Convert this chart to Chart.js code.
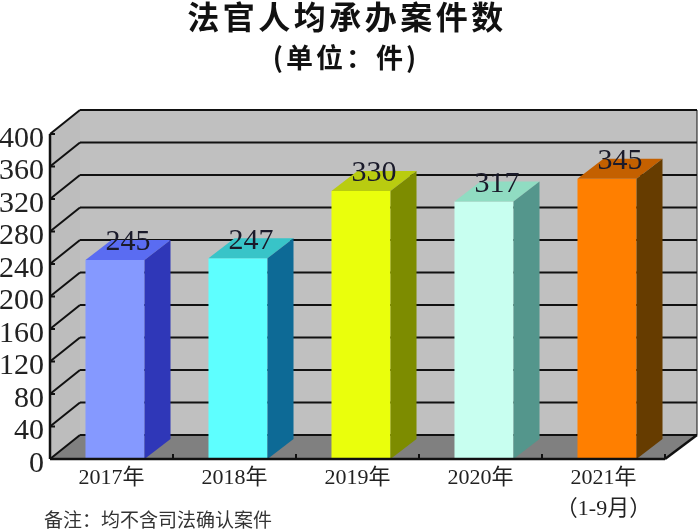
<!DOCTYPE html>
<html>
<head>
<meta charset="utf-8">
<style>
  html, body { margin: 0; padding: 0; background: #fff; }
  #wrap { width: 700px; height: 530px; }
</style>
<script src="https://cdn.jsdelivr.net/npm/chart.js@4"></script>
</head>
<body>
<div id="wrap"><canvas id="myChart" width="700" height="530"></canvas></div>
<script>
const categories = [["2017年"], ["2018年"], ["2019年"], ["2020年"], ["2021年", "（1-9月）"]];
const values = [245, 247, 330, 317, 345];
const frontColors = ["#8599ff", "#5effff", "#eaff0c", "#c8fff0", "#ff7f00"];
const topColors = ["#5a6cf2", "#38c4c8", "#b9cc10", "#90dcc2", "#c46000"];
const sideColors = ["#2f37b8", "#0d6a96", "#7d8c00", "#54968c", "#663c00"];
const yMax = 400;
const yStep = 40;

const serif = '"Liberation Serif", "Noto Sans CJK SC", serif';
const cjk = '"Noto Sans CJK SC", sans-serif';
const wallDx = 30, wallDy = -24;
const barDx = 26, barDy = -20;
const barShift = 3.5;
const wallExtra = 2;

function poly(ctx, pts, fill) {
  ctx.beginPath();
  ctx.moveTo(pts[0][0], pts[0][1]);
  for (let i = 1; i < pts.length; i++) ctx.lineTo(pts[i][0], pts[i][1]);
  ctx.closePath();
  ctx.fillStyle = fill;
  ctx.fill();
}

function line(ctx, x1, y1, x2, y2, w) {
  ctx.beginPath();
  ctx.moveTo(x1, y1);
  ctx.lineTo(x2, y2);
  ctx.lineWidth = w;
  ctx.strokeStyle = "#111";
  ctx.stroke();
}

const boxPlugin = {
  id: "box3d",
  beforeDatasetsDraw(chart) {
    const { ctx, chartArea: a, scales } = chart;
    const bx = a.left + wallDx, ty = a.top + wallDy, by = a.bottom + wallDy;
    const rx = a.right + wallDx + wallExtra;
    ctx.save();
    // back wall, side wall, floor
    poly(ctx, [[bx, ty], [rx, ty], [rx, by], [bx, by]], "#c0c0c0");
    poly(ctx, [[a.left, a.top], [bx, ty], [bx, by], [a.left, a.bottom]], "#bdbdbd");
    poly(ctx, [[a.left, a.bottom], [bx, by], [rx, by], [a.right, a.bottom]], "#808080");
    // gridlines come off the y scale
    for (let v = 0; v <= yMax; v += yStep) {
      const y = scales.y.getPixelForValue(v);
      line(ctx, a.left, y, bx, y + wallDy, 2);
      line(ctx, bx, y + wallDy, rx, y + wallDy, 2);
      line(ctx, a.left, y, a.left + 5, y, 2);
    }
    line(ctx, rx, ty, rx, by, 1);
    line(ctx, a.right, a.bottom, rx, by, 2.5);
    ctx.restore();
  },
  beforeDatasetDraw(chart) {
    chart.ctx.save();
    chart.ctx.translate(barShift, 0);
  },
  afterDatasetDraw(chart) {
    chart.ctx.restore();
  },
  afterDatasetsDraw(chart) {
    const { ctx, scales } = chart;
    const bars = chart.getDatasetMeta(0).data;
    ctx.save();
    bars.forEach((b, i) => {
      const half = b.width / 2;
      const l = b.x + barShift - half, r = b.x + barShift + half;
      poly(ctx, [[l, b.y], [l + barDx, b.y + barDy], [r + barDx, b.y + barDy], [r, b.y]], topColors[i]);
      poly(ctx, [[r, b.y], [r + barDx, b.y + barDy], [r + barDx, b.base + barDy], [r, b.base]], sideColors[i]);
    });
    // axis lines above the bars' feet
    const a = chart.chartArea;
    line(ctx, a.left, a.bottom, a.right, a.bottom, 2.5);
    line(ctx, a.left, a.top, a.left, a.bottom, 2.5);
    // x ticks point up into the floor, between categories
    for (let i = 0; i <= categories.length; i++) {
      const x = a.left + (i * (a.right - a.left)) / categories.length;
      line(ctx, x, a.bottom, x, a.bottom - 5, 2);
    }
    // y labels sit a little under their ticks
    ctx.fillStyle = "#222";
    ctx.font = "30px " + serif;
    ctx.textAlign = "right";
    ctx.textBaseline = "middle";
    scales.y.ticks.forEach((t) => {
      ctx.fillText(String(t.value), 44, scales.y.getPixelForValue(t.value) + 5);
    });
    // value labels
    ctx.fillStyle = "#1a1a2a";
    ctx.textAlign = "center";
    bars.forEach((b, i) => {
      ctx.fillText(String(values[i]), b.x + barShift + barDx / 2, b.y - 17.5);
    });
    // title and note
    ctx.fillStyle = "#111";
    ctx.font = "600 32px " + cjk;
    ctx.letterSpacing = "3.5px";
    ctx.fillText("法官人均承办案件数", 347, 17);
    ctx.font = "600 27px " + cjk;
    ctx.letterSpacing = "3px";
    ctx.fillText("(单位：件)", 346, 58);
    ctx.letterSpacing = "0px";
    ctx.fillStyle = "#333";
    ctx.font = "19px " + cjk;
    ctx.textAlign = "left";
    ctx.fillText("备注：均不含司法确认案件", 44, 520);
    ctx.restore();
  },
};

const ctx = document.getElementById("myChart").getContext("2d");
const myChart = new Chart(ctx, {
  type: "bar",
  data: {
    labels: categories,
    datasets: [{
      data: values,
      backgroundColor: frontColors,
      borderWidth: 0,
      barPercentage: 0.96,
      categoryPercentage: 0.5,
    }],
  },
  plugins: [boxPlugin],
  options: {
    responsive: false,
    animation: false,
    devicePixelRatio: 1,
    layout: { padding: { top: 134, right: 35, left: 0, bottom: 0 } },
    plugins: { legend: { display: false }, tooltip: { enabled: false } },
    scales: {
      x: {
        afterFit: (s) => { s.height = 71; },
        grid: { display: false },
        border: { display: false },
        ticks: { color: "#222", font: { family: serif, size: 22, lineHeight: 1.4 }, padding: -4, maxRotation: 0, autoSkip: false },
      },
      y: {
        min: 0,
        max: yMax,
        afterFit: (s) => { s.width = 50; },
        grid: { display: false },
        border: { display: false },
        ticks: { display: false, stepSize: yStep, autoSkip: false },
      },
    },
  },
});
</script>
</body>
</html>
